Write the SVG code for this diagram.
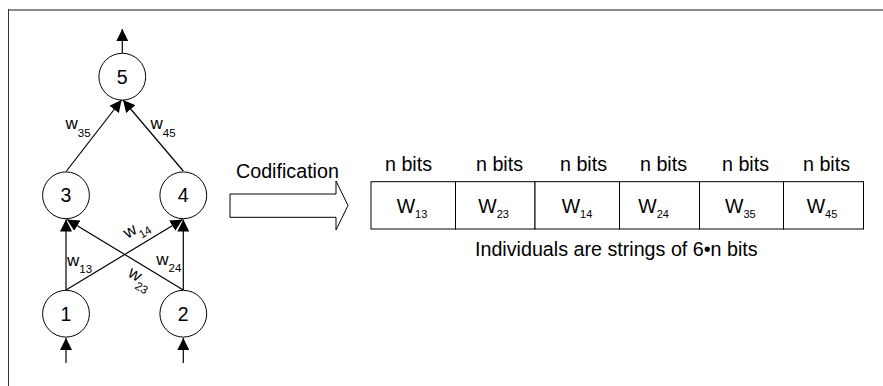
<svg xmlns="http://www.w3.org/2000/svg" width="883" height="386" viewBox="0 0 883 386">
<style>
text{font-family:"Liberation Sans",Arial,sans-serif;fill:#000}
.node circle{fill:#fff;stroke:#000;stroke-width:1}
.num{font-size:19.5px;text-anchor:middle}
.w{font-size:17px}
.ws{font-size:11.5px}
.lab{font-size:19.7px}
.W{font-size:19.5px}
.Ws{font-size:11px}
.edge{stroke:#000;stroke-width:1.2;fill:none;marker-end:url(#ah)}
.cell{fill:#fff;stroke:#000;stroke-width:1}
</style>
<defs>
<marker id="ah" viewBox="0 0 12 12" refX="12" refY="6" markerWidth="12" markerHeight="12" markerUnits="userSpaceOnUse" orient="auto">
<path d="M0,0 L12,6 L0,12 Z" fill="#000"/>
</marker>
</defs>
<rect width="883" height="386" fill="#fff"/>
<g id="frame">
<line x1="9" y1="10" x2="883" y2="10" stroke="#8a8a8a" stroke-width="2"/>
<line x1="8.5" y1="9" x2="8.5" y2="386" stroke="#333" stroke-width="1"/>
</g>
<g id="connectors">
<line class="edge" x1="122.3" y1="53" x2="122.3" y2="29"/>
<line class="edge" x1="66.5" y1="171" x2="121.5" y2="100"/>
<line class="edge" x1="183.3" y1="171" x2="123" y2="100"/>
<line class="edge" x1="66" y1="290" x2="66" y2="219.5"/>
<line class="edge" x1="183.3" y1="290" x2="183.3" y2="219.5"/>
<line class="edge" x1="66" y1="290" x2="182.5" y2="219.5"/>
<line class="edge" x1="183.3" y1="290" x2="67" y2="219.5"/>
<line class="edge" x1="66" y1="363" x2="66" y2="338"/>
<line class="edge" x1="183.3" y1="363" x2="183.3" y2="338"/>
<text class="w" x="65.5" y="129.3">w<tspan class="ws" dy="7.4">35</tspan></text>
<text class="w" x="150.5" y="129.3">w<tspan class="ws" dy="7.4">45</tspan></text>
<text class="w" x="67" y="266">w<tspan class="ws" dy="6.7">13</tspan></text>
<text class="w" x="156.3" y="265">w<tspan class="ws" dy="6.7">24</tspan></text>
<text class="w" transform="translate(127.5,239) rotate(-31)">w<tspan class="ws" dy="7">14</tspan></text>
<text class="w" transform="translate(127,275.7) rotate(31)">w<tspan class="ws" dy="7">23</tspan></text>
</g>
<g id="n5" class="node"><circle cx="122.3" cy="76.7" r="23.4"/><text class="num" x="122.3" y="83.6">5</text></g>
<g id="n3" class="node"><circle cx="66" cy="195.3" r="23.4"/><text class="num" x="66" y="202.2">3</text></g>
<g id="n4" class="node"><circle cx="183.3" cy="195.3" r="23.4"/><text class="num" x="183.3" y="202.2">4</text></g>
<g id="n1" class="node"><circle cx="66" cy="313.7" r="23.4"/><text class="num" x="66" y="320.6">1</text></g>
<g id="n2" class="node"><circle cx="183.3" cy="313.7" r="23.4"/><text class="num" x="183.3" y="320.6">2</text></g>
<g id="codification">
<polygon points="230,194 336,194 336,181 348,205.5 336,230 336,217.3 230,217.3" fill="#fff" stroke="#000" stroke-width="1"/>
<text class="lab" x="236" y="177.7">Codification</text>
</g>
<g id="string">
<rect class="cell" x="371" y="181.7" width="84.5" height="47.3"/>
<rect class="cell" x="455.5" y="181.7" width="79.5" height="47.3"/>
<rect class="cell" x="535" y="181.7" width="84.5" height="47.3"/>
<rect class="cell" x="619.5" y="181.7" width="80" height="47.3"/>
<rect class="cell" x="699.5" y="181.7" width="84" height="47.3"/>
<rect class="cell" x="783.5" y="181.7" width="80" height="47.3"/>
<text class="lab" x="385" y="170.7">n bits</text>
<text class="lab" x="476" y="170.7">n bits</text>
<text class="lab" x="560" y="170.7">n bits</text>
<text class="lab" x="640" y="170.7">n bits</text>
<text class="lab" x="722" y="170.7">n bits</text>
<text class="lab" x="803" y="170.7">n bits</text>
<text class="W" x="396.7" y="213.3">W<tspan class="Ws" dy="4.4">13</tspan></text>
<text class="W" x="478.3" y="213.3">W<tspan class="Ws" dy="4.4">23</tspan></text>
<text class="W" x="561.7" y="213.3">W<tspan class="Ws" dy="4.4">14</tspan></text>
<text class="W" x="638.3" y="213.3">W<tspan class="Ws" dy="4.4">24</tspan></text>
<text class="W" x="725" y="213.3">W<tspan class="Ws" dy="4.4">35</tspan></text>
<text class="W" x="806.7" y="213.3">W<tspan class="Ws" dy="4.4">45</tspan></text>
<text class="lab" x="475" y="256">Individuals are strings of 6•n bits</text>
</g>
</svg>
